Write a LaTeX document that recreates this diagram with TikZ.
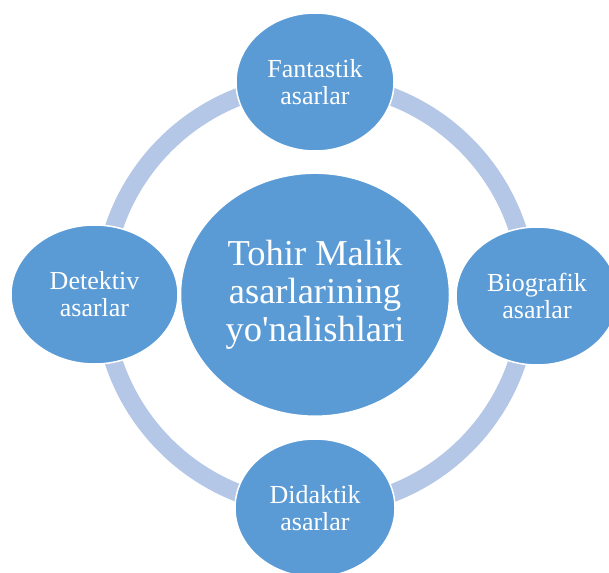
\documentclass[tikz,border=0pt]{standalone}
\usepackage{fontspec}
\setmainfont{Liberation Serif}
\usetikzlibrary{shapes.geometric}
\definecolor{nodeblue}{HTML}{5B9BD5}
\definecolor{ringblue}{RGB}{180,199,231}
\tikzset{
  sat/.style={ellipse, fill=nodeblue, draw=white, line width=1.5pt, inner sep=0pt,
    text=white, align=center, font=\fontsize{26}{27}\selectfont},
  hub/.style={ellipse, fill=nodeblue, draw=white, line width=1.5pt, inner sep=0pt,
    text=white, align=center, font=\fontsize{36.5}{38}\selectfont},
  ring/.style={draw=ringblue, line width=18pt}
}
\begin{document}
\begin{tikzpicture}[x=1pt,y=-1pt]
\useasboundingbox (0,0) rectangle (609,572);
\clip (0,0) rectangle (609,572);
\coordinate (rc) at (315.5,295);
\draw[ring] (rc) circle[radius=212.5pt];
\node[hub, minimum width=269pt, minimum height=243pt] (hub) at (315,294.7)
  {Tohir Malik\\asarlarining\\yo\textquotesingle nalishlari};
\node[sat, minimum width=158pt, minimum height=138pt] (top) at (315,82)
  {Fantastik\\asarlar};
\node[sat, minimum width=167pt, minimum height=139pt] (left) at (94.5,294.5)
  {Detektiv\\asarlar};
\node[sat, minimum width=162pt, minimum height=138pt] (right) at (537,296)
  {Biografik\\asarlar};
\node[sat, minimum width=160pt, minimum height=138pt] (bottom) at (315,508)
  {Didaktik\\asarlar};
\end{tikzpicture}
\end{document}
